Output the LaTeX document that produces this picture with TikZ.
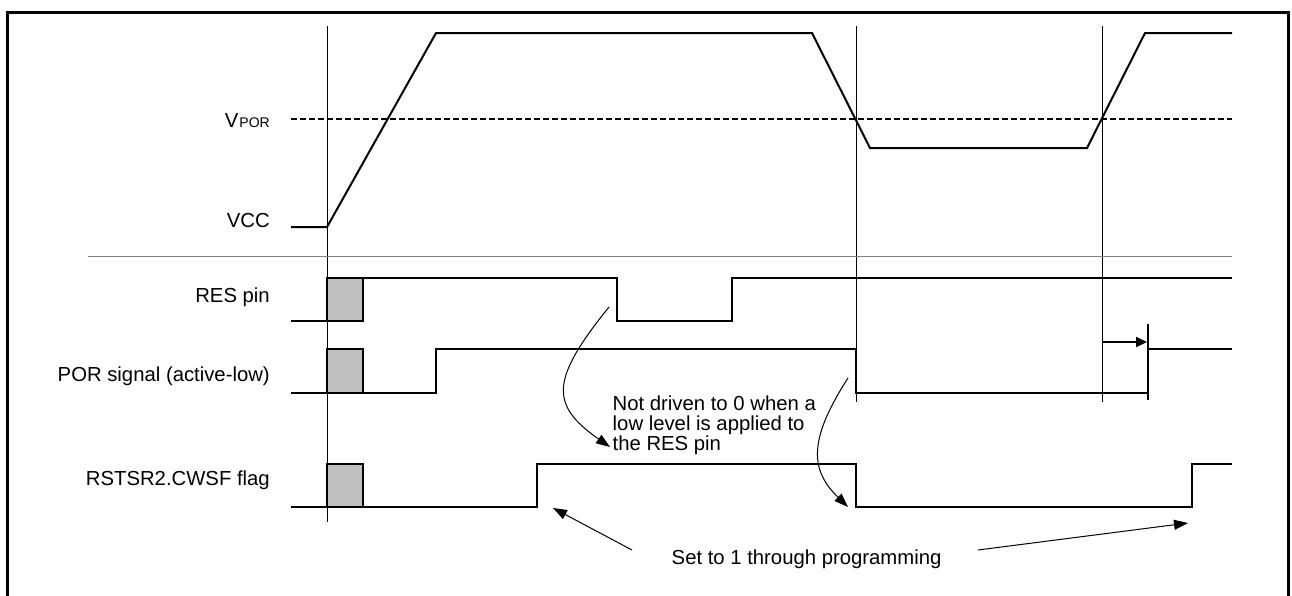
\documentclass[tikz,border=0pt]{standalone}
\usepackage{fontspec}
\setmainfont{Liberation Sans}
\usetikzlibrary{arrows.meta}
\definecolor{boxgray}{HTML}{BFBFBF}
\definecolor{sepgray}{HTML}{808080}
\begin{document}
\begin{tikzpicture}[x=1pt,y=-1pt,
  wave/.style={line width=2pt, line join=miter},
  guide/.style={line width=1pt},
  lbl/.style={font=\fontsize{20.3}{20}\selectfont, inner sep=0pt},
  thinarrow/.style={line width=1pt, -{Triangle[length=14pt,width=10pt]}},
  resetbox/.style={fill=boxgray, draw=black, line width=2pt}]
\useasboundingbox (0,0) rectangle (1292,595);
% frame
\draw[line width=3pt] (7.5,600) -- (7.5,12.5) -- (1288.5,12.5) -- (1288.5,600);
% guide lines
\draw[guide] (327,26) -- (327,522);
\draw[guide] (856,26) -- (856,402);
\draw[guide] (1102,26) -- (1102,402);
\draw[line width=1pt, draw=sepgray] (88,256) -- (1232,256);
% labels
\node[lbl, anchor=base east] (vpor) at (270,127.5) {V{\fontsize{14}{14}\selectfont\kern1pt POR}};
\node[lbl, anchor=base east] (vcc) at (270,227) {VCC};
\node[lbl, anchor=base east] (res) at (270,302) {RES pin};
\node[lbl, anchor=base east] (por) at (270,381.5) {POR signal (active-low)};
\node[lbl, anchor=base east] (cwsf) at (270,485.5) {RSTSR2.CWSF flag};
% VCC
\draw[line width=2pt, dash pattern=on 6pt off 3pt] (291,119) -- (1232,119);
\draw[wave] (291,227) -- (327,227) -- (436,33) -- (812,33) -- (870,148) -- (1087,148) -- (1145,33) -- (1232,33);
% RES pin
\draw[resetbox] (327,278) rectangle (363,321);
\draw[wave] (291,321) -- (363,321) -- (363,278) -- (617,278) -- (617,321) -- (732,321) -- (732,278) -- (1232,278);
% POR signal
\draw[resetbox] (327,349) rectangle (363,393);
\draw[wave] (291,393) -- (436,393) -- (436,349) -- (856,349) -- (856,393) -- (1148,393) -- (1148,349) -- (1232,349);
\coordinate (dtop) at (1148,324);
\coordinate (dbot) at (1148,400);
\draw[wave] (dtop) -- (dbot);
\coordinate (dstart) at (1102,342);
\coordinate (dend) at (1147,342);
\draw[line width=2pt, -{Triangle[length=11pt,width=10pt]}] (dstart) -- (dend);
% CWSF flag
\draw[resetbox] (327,464) rectangle (363,507);
\draw[wave] (291,507) -- (537,507) -- (537,464) -- (856,464) -- (856,507) -- (1192,507) -- (1192,464) -- (1232,464);
% annotations
\node[lbl, anchor=base west] (nd1) at (612.5,410) {Not driven to 0 when a};
\node[lbl, anchor=base west] (nd2) at (612.5,430) {low level is applied to};
\node[lbl, anchor=base west] (nd3) at (612.5,450) {the RES pin};
\node[lbl, anchor=base west] (set) at (671.5,564) {Set to 1 through programming};
\coordinate (a1s) at (609,307);
\coordinate (a1e) at (610,447);
\draw[thinarrow] (a1s) .. controls (550,380) and (550,405) .. (a1e);
\coordinate (a2s) at (848,378);
\coordinate (a2e) at (848,507);
\draw[thinarrow] (a2s) .. controls (808,440) and (810,470) .. (a2e);
\coordinate (s1) at (632,550);
\coordinate (s1e) at (553,508);
\draw[thinarrow] (s1) -- (s1e);
\coordinate (s2) at (978,550);
\coordinate (s2e) at (1188,523);
\draw[thinarrow] (s2) -- (s2e);
\end{tikzpicture}
\end{document}
